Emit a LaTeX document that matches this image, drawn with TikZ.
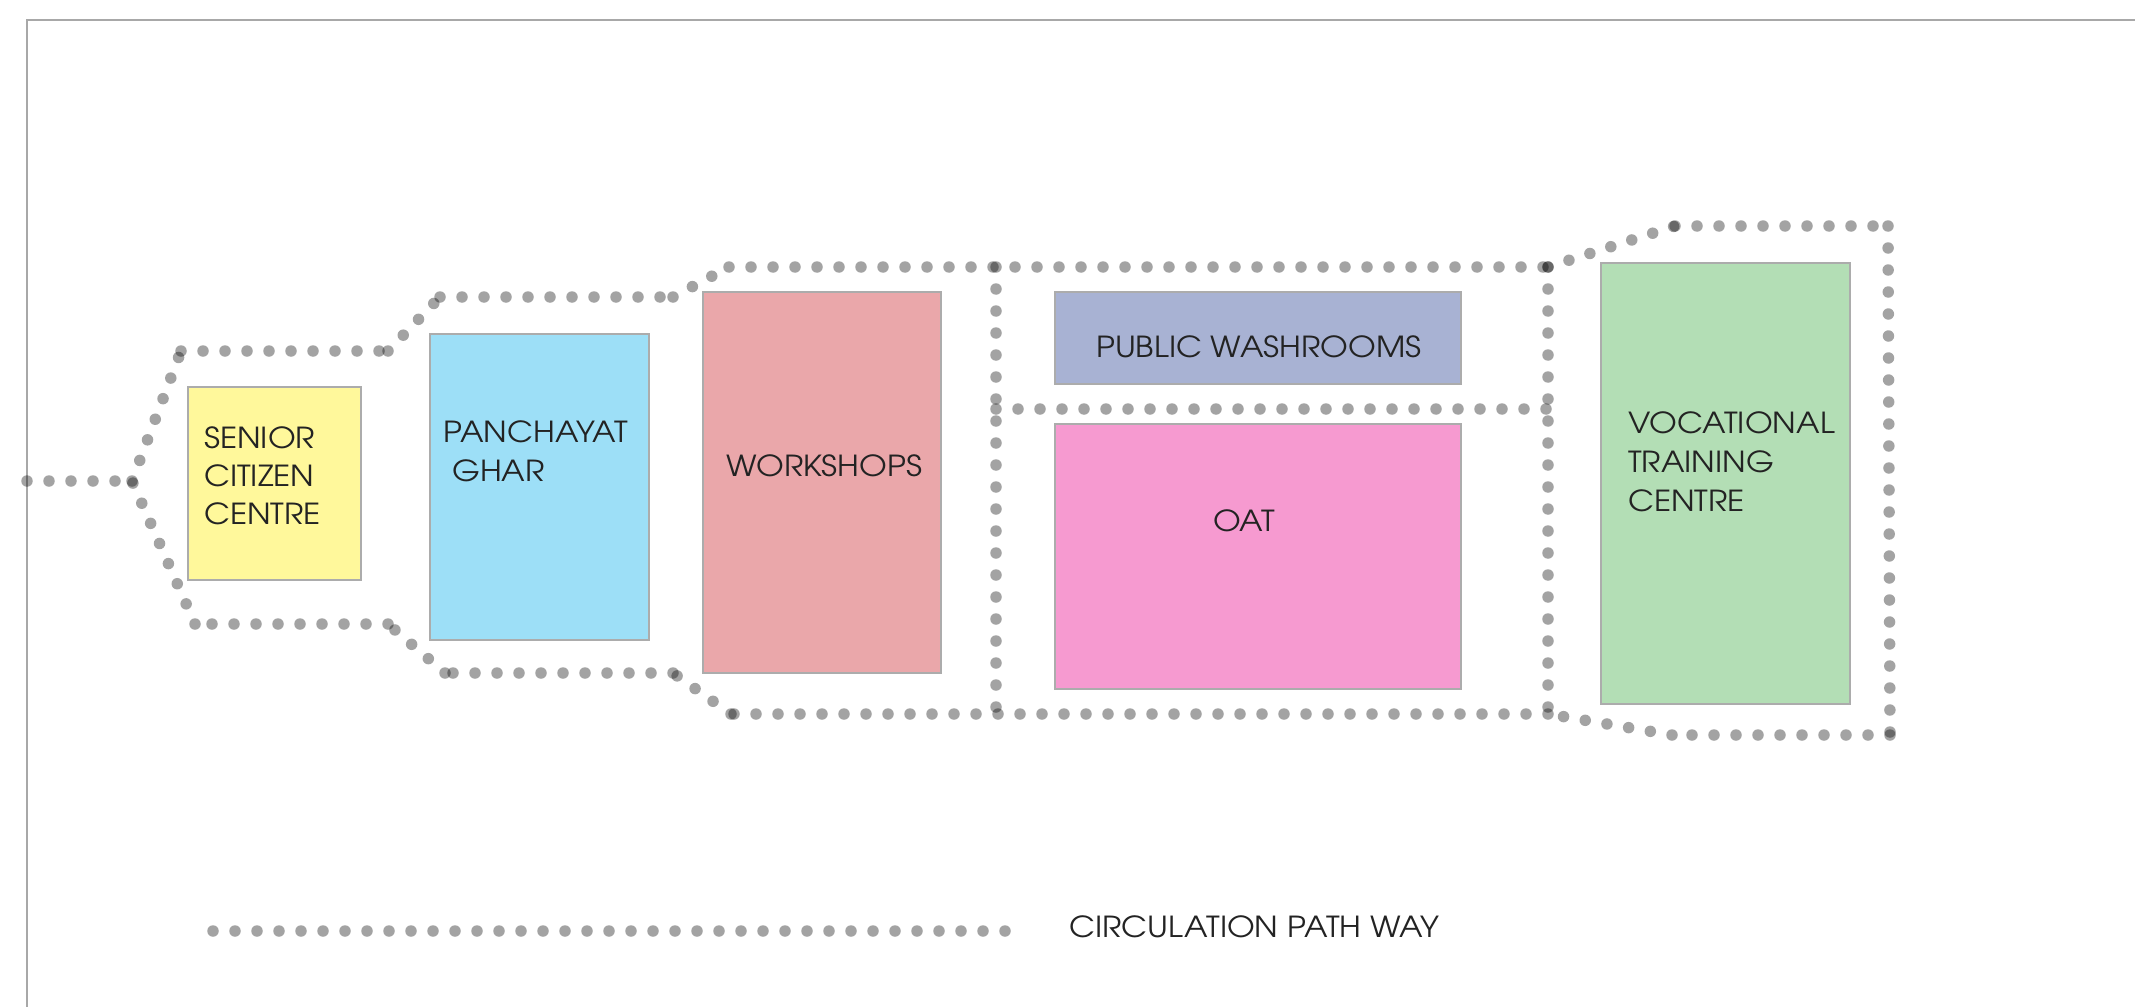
\documentclass[tikz,border=0pt]{standalone}
\usepackage{fontspec}
\IfFontExistsTF{texgyreadventor-regular.otf}{\setmainfont[FakeStretch=1.1]{texgyreadventor-regular.otf}}{\setmainfont{Poppins}}
\definecolor{cSenior}{RGB}{255,248,155}
\definecolor{cPanch}{RGB}{157,223,247}
\definecolor{cWork}{RGB}{234,167,170}
\definecolor{cWash}{RGB}{168,178,211}
\definecolor{cOAT}{RGB}{246,154,208}
\definecolor{cVTC}{RGB}{179,222,181}
\definecolor{boxline}{RGB}{172,172,172}
\definecolor{framegray}{RGB}{168,168,168}
\definecolor{txt}{RGB}{35,35,35}
\begin{document}
\begin{tikzpicture}[x=1pt,y=-1pt,
  room/.style={draw=boxline, line width=1.5pt, anchor=north west, inner sep=0pt, outer sep=0pt},
  lbl/.style={anchor=base west, inner sep=0pt, text=txt, font=\fontsize{29}{36}\selectfont},
  walk/.style={draw=black, draw opacity=0.36, line width=11.5pt, line cap=round, dash pattern=on 0pt off 22pt},
  frameline/.style={draw=framegray, line width=2.2pt}]
\useasboundingbox (0,0) rectangle (2135,1006);
% frame
\coordinate (f1) at (27,1012);
\coordinate (f2) at (27,20);
\coordinate (f3) at (2140,20);
\draw[frameline] (f1) -- (f2) -- (f3);
% rooms
\node[room, fill=cSenior, minimum width=173pt, minimum height=193pt] (senior) at (188,387) {};
\node[room, fill=cPanch, minimum width=219pt, minimum height=306pt] (panch) at (430,334) {};
\node[room, fill=cWork, minimum width=238pt, minimum height=381pt] (work) at (703,292) {};
\node[room, fill=cWash, minimum width=406pt, minimum height=92pt] (wash) at (1055,292) {};
\node[room, fill=cOAT, minimum width=406pt, minimum height=265pt] (oat) at (1055,424) {};
\node[room, fill=cVTC, minimum width=249pt, minimum height=441pt] (vtc) at (1601,263) {};
% labels
\node[lbl] (ts1) at (204,448) {SENIOR};
\node[lbl] (ts2) at (204,486) {CITIZEN};
\node[lbl] (ts3) at (204,524) {CENTRE};
\node[lbl] (tp1) at (443,442) {PANCHAYAT};
\node[lbl] (tp2) at (452,481) {GHAR};
\node[lbl] (tw) at (726,476) {WORKSHOPS};
\node[lbl] (tpw) at (1096,357) {PUBLIC WASHROOMS};
\node[lbl] (to) at (1213,531) {OAT};
\node[lbl] (tv1) at (1628,433) {VOCATIONAL};
\node[lbl] (tv2) at (1628,472) {TRAINING};
\node[lbl] (tv3) at (1628,511) {CENTRE};
% circulation path vertices
\coordinate (p0) at (27,481);
\coordinate (b) at (132,481);
\coordinate (u1) at (181,351);
\coordinate (u2) at (388,351);
\coordinate (u3) at (440,297);
\coordinate (u4) at (673,297);
\coordinate (u5) at (729,267);
\coordinate (u6) at (1548,267);
\coordinate (u7) at (1675,226);
\coordinate (u8) at (1888,226);
\coordinate (u9) at (1890,735);
\coordinate (u10) at (1672,735);
\coordinate (u11) at (1548,714);
\coordinate (u12) at (731,714);
\coordinate (l4) at (673,673);
\coordinate (l3) at (445,673);
\coordinate (l2) at (388,624);
\coordinate (l1) at (195,624);
\coordinate (v1t) at (996,267);
\coordinate (v1b) at (996,714);
\coordinate (v2b) at (1548,714);
\coordinate (m1) at (996,409);
\coordinate (m2) at (1548,409);
\foreach \a/\c in {p0/b, b/u1, u1/u2, u2/u3, u3/u4, u4/u5, u5/u6, u6/u7, u7/u8, u8/u9, u9/u10, u10/u11, u11/u12, u12/l4, l4/l3, l3/l2, l2/l1, l1/b, v1t/v1b, u6/v2b, m1/m2}
  \draw[walk] (\a) -- (\c);
% legend
\coordinate (lg1) at (213,931);
\coordinate (lg2) at (1005,931);
\draw[walk] (lg1) -- (lg2);
\node[lbl] (tlg) at (1069,937) {CIRCULATION PATH WAY};
\end{tikzpicture}
\end{document}
